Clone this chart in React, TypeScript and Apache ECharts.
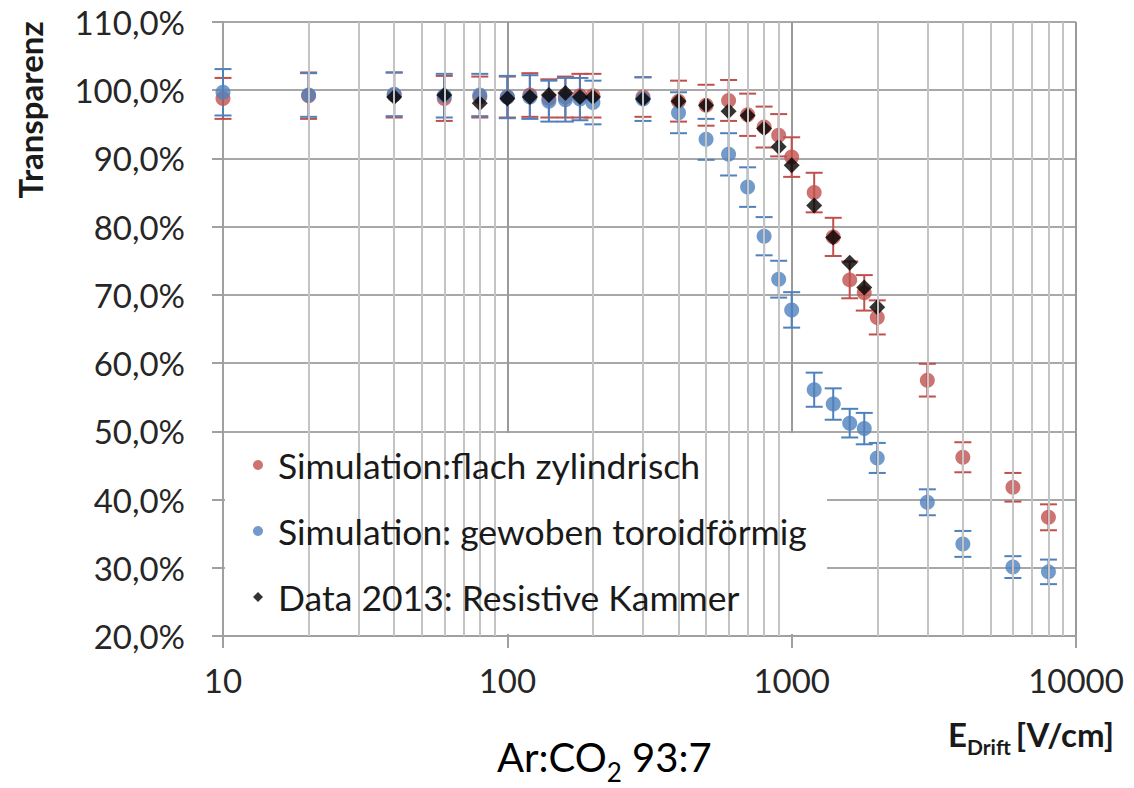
import React, { useEffect, useRef } from "react";
import * as echarts from "echarts";

// E-field values (V/cm)
const xValues = [10, 20, 40, 60, 80, 100, 120, 140, 160, 180, 200, 300, 400, 500, 600, 700, 800, 900, 1000, 1200, 1400, 1600, 1800, 2000, 3000, 4000, 6000, 8000];
// Simulation: flach zylindrisch (red)
const redValues = [98.8, 99.2, 99.3, 98.8, 99.0, 99.0, 99.3, 98.8, 99.0, 99.2, 99.2, 99.0, 98.4, 97.8, 98.5, 96.4, 94.6, 93.4, 90.2, 85.0, 78.5, 72.2, 70.3, 66.7, 57.5, 46.2, 41.8, 37.4];
const redErrors = [3.0, 3.4, 3.3, 3.3, 3.0, 3.0, 3.2, 2.8, 3.0, 3.2, 3.2, 2.9, 3.0, 3.0, 3.0, 3.1, 3.0, 3.1, 2.9, 2.9, 2.8, 2.7, 2.6, 2.5, 2.4, 2.2, 2.1, 1.9];
// Simulation: gewoben toroidförmig (blue)
const blueValues = [99.7, 99.3, 99.4, 99.2, 99.3, 99.0, 99.0, 98.4, 98.6, 98.7, 98.2, 98.7, 96.7, 92.8, 90.6, 85.8, 78.6, 72.3, 67.8, 56.1, 54.0, 51.2, 50.4, 46.1, 39.6, 33.5, 30.1, 29.4];
const blueErrors = [3.4, 3.2, 3.2, 3.2, 3.1, 3.1, 3.2, 3.0, 3.2, 3.1, 3.2, 3.2, 3.0, 3.0, 3.1, 2.9, 2.8, 2.7, 2.6, 2.5, 2.3, 2.1, 2.3, 2.2, 1.9, 1.9, 1.6, 1.8];
// Data 2013: Resistive Kammer (black)
const blackX = [40, 60, 80, 100, 120, 140, 160, 180, 200, 300, 400, 500, 600, 700, 800, 900, 1000, 1200, 1400, 1600, 1800, 2000];
const blackValues = [99.0, 99.3, 98.1, 98.8, 99.0, 99.3, 99.6, 99.0, 99.0, 98.7, 98.4, 97.8, 96.9, 96.3, 94.4, 91.7, 89.0, 83.1, 78.4, 74.7, 71.1, 68.2];

const seriesNames = ["Simulation:flach zylindrisch", "Simulation: gewoben toroidförmig", "Data 2013: Resistive Kammer"];
const minorGridX = [20, 30, 40, 50, 60, 70, 80, 90, 200, 300, 400, 500, 600, 700, 800, 900, 2000, 3000, 4000, 5000, 6000, 7000, 8000, 9000];

const RED = "#C0504D";
const BLUE = "#4F81BD";
const FONT = "Lato";

function measure(font: string, s: string): number {
  const ctx = document.createElement("canvas").getContext("2d");
  if (!ctx) return s.length * 10;
  ctx.font = font;
  return ctx.measureText(s).width;
}

function errorBarSeries(name: string, values: number[], errors: number[], color: string) {
  return {
    type: "custom",
    name: name + " err",
    z: 2,
    silent: true,
    data: xValues.map((x, i) => [x, values[i], errors[i]]),
    encode: { x: 0, y: 1 },
    renderItem: (params: any, api: any) => {
      const x = api.value(0);
      const y = api.value(1);
      const e = api.value(2);
      const top = api.coord([x, y + e]);
      const bot = api.coord([x, y - e]);
      const hw = 8.5;
      const st = { stroke: color, lineWidth: 2 };
      return {
        type: "group",
        children: [
          { type: "line", shape: { x1: top[0], y1: top[1], x2: bot[0], y2: bot[1] }, style: st },
          { type: "line", shape: { x1: top[0] - hw, y1: top[1], x2: top[0] + hw, y2: top[1] }, style: st },
          { type: "line", shape: { x1: bot[0] - hw, y1: bot[1], x2: bot[0] + hw, y2: bot[1] }, style: st },
        ],
      };
    },
  };
}

export default function App() {
  const ref = useRef<HTMLDivElement>(null);
  useEffect(() => {
    if (!ref.current) return;
    const chart = echarts.init(ref.current, undefined, { renderer: "svg" });

    const bigFont = `40px ${FONT}`;
    const subFont = `26px ${FONT}`;
    const w1 = measure(bigFont, "Ar:CO");
    const w2 = measure(subFont, "2");
    const bx = 497;

    const nameFont = `bold 33px ${FONT}`;
    const nameSubFont = `bold 21px ${FONT}`;
    const wE = measure(nameFont, "E");
    const wD = measure(nameSubFont, "Drift");
    const ex = 948;

    chart.setOption({
      animation: false,
      backgroundColor: "#ffffff",
      grid: { left: 223, right: 58, top: 22, bottom: 152 },
      xAxis: {
        type: "log",
        logBase: 10,
        min: 10,
        max: 10000,
        axisLine: { show: true, onZero: false, lineStyle: { color: "#a0a0a0", width: 2 } },
        axisTick: { show: true, length: 12, lineStyle: { color: "#a0a0a0", width: 2 } },
        axisLabel: {
          margin: 27,
          fontSize: 33,
          fontFamily: FONT,
          color: "#262626",
          formatter: (v: number) => String(Math.round(v)),
        },
        splitLine: { show: true, lineStyle: { color: "#9a9a9a", width: 2 } },
        minorTick: { show: false },
        minorSplitLine: { show: false },
      },
      yAxis: {
        type: "value",
        min: 20,
        max: 110,
        interval: 10,
        axisLine: { show: true, onZero: false, lineStyle: { color: "#a0a0a0", width: 2 } },
        axisTick: { show: true, length: 11, lineStyle: { color: "#a0a0a0", width: 2 } },
        axisLabel: {
          margin: 38,
          fontSize: 33,
          fontFamily: FONT,
          color: "#262626",
          formatter: (v: number) => v.toFixed(1).replace(".", ",") + "%",
        },
        splitLine: { show: true, lineStyle: { color: "#a8a8a8", width: 2 } },
      },
      legend: {
        orient: "vertical",
        left: 248,
        top: 440,
        z: 10,
        itemWidth: 10,
        itemHeight: 10,
        itemGap: 26,
        selectedMode: false,
        textStyle: { fontSize: 35.5, fontFamily: FONT, color: "#1a1a1a", lineHeight: 40, padding: [0, 0, 0, 10] },
        data: [
          { name: seriesNames[0], icon: "circle" },
          { name: seriesNames[1], icon: "circle" },
          { name: seriesNames[2], icon: "diamond" },
        ],
      },
      graphic: [
        { type: "rect", z: 5, shape: { x: 225, y: 433, width: 602, height: 201 }, style: { fill: "#ffffff" }, silent: true },
        {
          type: "text", x: 30, y: 110, rotation: Math.PI / 2,
          style: { text: "Transparenz", font: `bold 33px ${FONT}`, fill: "#1a1a1a", textAlign: "center", textVerticalAlign: "middle" },
        },
        { type: "text", x: ex, y: 734, style: { text: "E", font: nameFont, fill: "#1a1a1a", textAlign: "left", textVerticalAlign: "middle" } },
        { type: "text", x: ex + wE, y: 746, style: { text: "Drift", font: nameSubFont, fill: "#1a1a1a", textAlign: "left", textVerticalAlign: "middle" } },
        { type: "text", x: ex + wE + wD + 5, y: 734, style: { text: "[V/cm]", font: nameFont, fill: "#1a1a1a", textAlign: "left", textVerticalAlign: "middle" } },
        { type: "text", x: bx, y: 757, style: { text: "Ar:CO", font: bigFont, fill: "#000000", textAlign: "left", textVerticalAlign: "middle" } },
        { type: "text", x: bx + w1, y: 772, style: { text: "2", font: subFont, fill: "#000000", textAlign: "left", textVerticalAlign: "middle" } },
        { type: "text", x: bx + w1 + w2, y: 757, style: { text: " 93:7", font: bigFont, fill: "#000000", textAlign: "left", textVerticalAlign: "middle" } },
      ],
      series: [
        {
          type: "line",
          name: "minor-grid",
          data: [],
          z: 1,
          silent: true,
          markLine: {
            silent: true,
            symbol: ["none", "none"],
            label: { show: false },
            lineStyle: { color: "#c4c4c4", width: 2, type: "solid" },
            data: minorGridX.map((v) => ({ xAxis: v })),
          },
        },
        errorBarSeries(seriesNames[0], redValues, redErrors, RED),
        errorBarSeries(seriesNames[1], blueValues, blueErrors, BLUE),
        {
          type: "scatter",
          name: seriesNames[0],
          z: 3,
          symbol: "circle",
          symbolSize: 15,
          itemStyle: { color: RED },
          data: xValues.map((x, i) => [x, redValues[i]]),
        },
        {
          type: "scatter",
          name: seriesNames[1],
          z: 3,
          symbol: "circle",
          symbolSize: 15,
          itemStyle: { color: BLUE },
          data: xValues.map((x, i) => [x, blueValues[i]]),
        },
        {
          type: "scatter",
          name: seriesNames[2],
          z: 3,
          symbol: "diamond",
          symbolSize: 16,
          itemStyle: { color: "#000000" },
          data: blackX.map((x, i) => [x, blackValues[i]]),
        },
      ],
    });
    return () => chart.dispose();
  }, []);
  return <div ref={ref} style={{ position: "fixed", left: 0, top: 0, width: 1134, height: 788 }} />;
}
